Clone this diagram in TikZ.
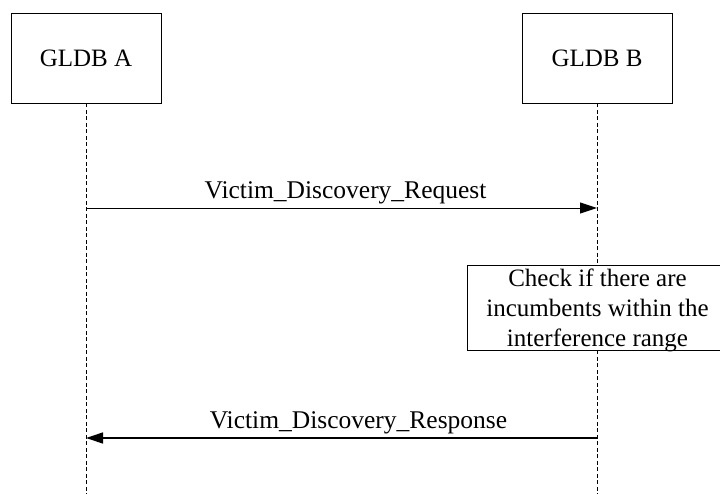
\documentclass[tikz,border=0pt]{standalone}
\usepackage{fontspec}
\setmainfont{Liberation Serif}
\usetikzlibrary{arrows.meta}
\begin{document}
\begin{tikzpicture}[x=1pt,y=-1pt,
  font=\fontsize{25}{29.5}\selectfont,
  entity/.style={draw,line width=0.8pt,minimum width=150pt,minimum height=90pt,inner sep=0pt},
  lifeline/.style={dashed,line width=0.7pt,dash pattern=on 4pt off 2.5pt},
  msg/.style={line width=0.9pt,-{Triangle[length=17pt,width=11pt]}},
  msglabel/.style={font=\fontsize{25.5}{29.5}\selectfont},
  note/.style={draw,line width=0.8pt,minimum width=253pt,minimum height=85pt,align=center,inner sep=0pt}]
\useasboundingbox (0,0) rectangle (720,494);
\node[entity] (A) at (86,58) {GLDB A};
\node[entity] (B) at (597,58) {GLDB B};
\coordinate (Aend) at (86,494);
\coordinate (Bend) at (597,494);
\draw[lifeline] (A.south) -- (Aend);
\draw[lifeline] (B.south) -- (Bend);
\coordinate (Areq) at (86,208);
\coordinate (Breq) at (597,208);
\coordinate (Ares) at (86,438);
\coordinate (Bres) at (597,438);
\draw[msg] (Areq) -- node[above=0pt,msglabel,xshift=4pt] {Victim\_Discovery\_Request} (Breq);
\node[note,fill=white] (chk) at (593.5,307.5) {};
\node[align=center,font=\fontsize{25}{29.8}\selectfont] (chktext) at ([xshift=4pt,yshift=-3pt]chk.center) {Check if there are\\incumbents within the\\interference range};
\draw[msg,line width=1.3pt] (Bres) -- node[above=0pt,msglabel,xshift=17pt] {Victim\_Discovery\_Response} (Ares);
\end{tikzpicture}
\end{document}
